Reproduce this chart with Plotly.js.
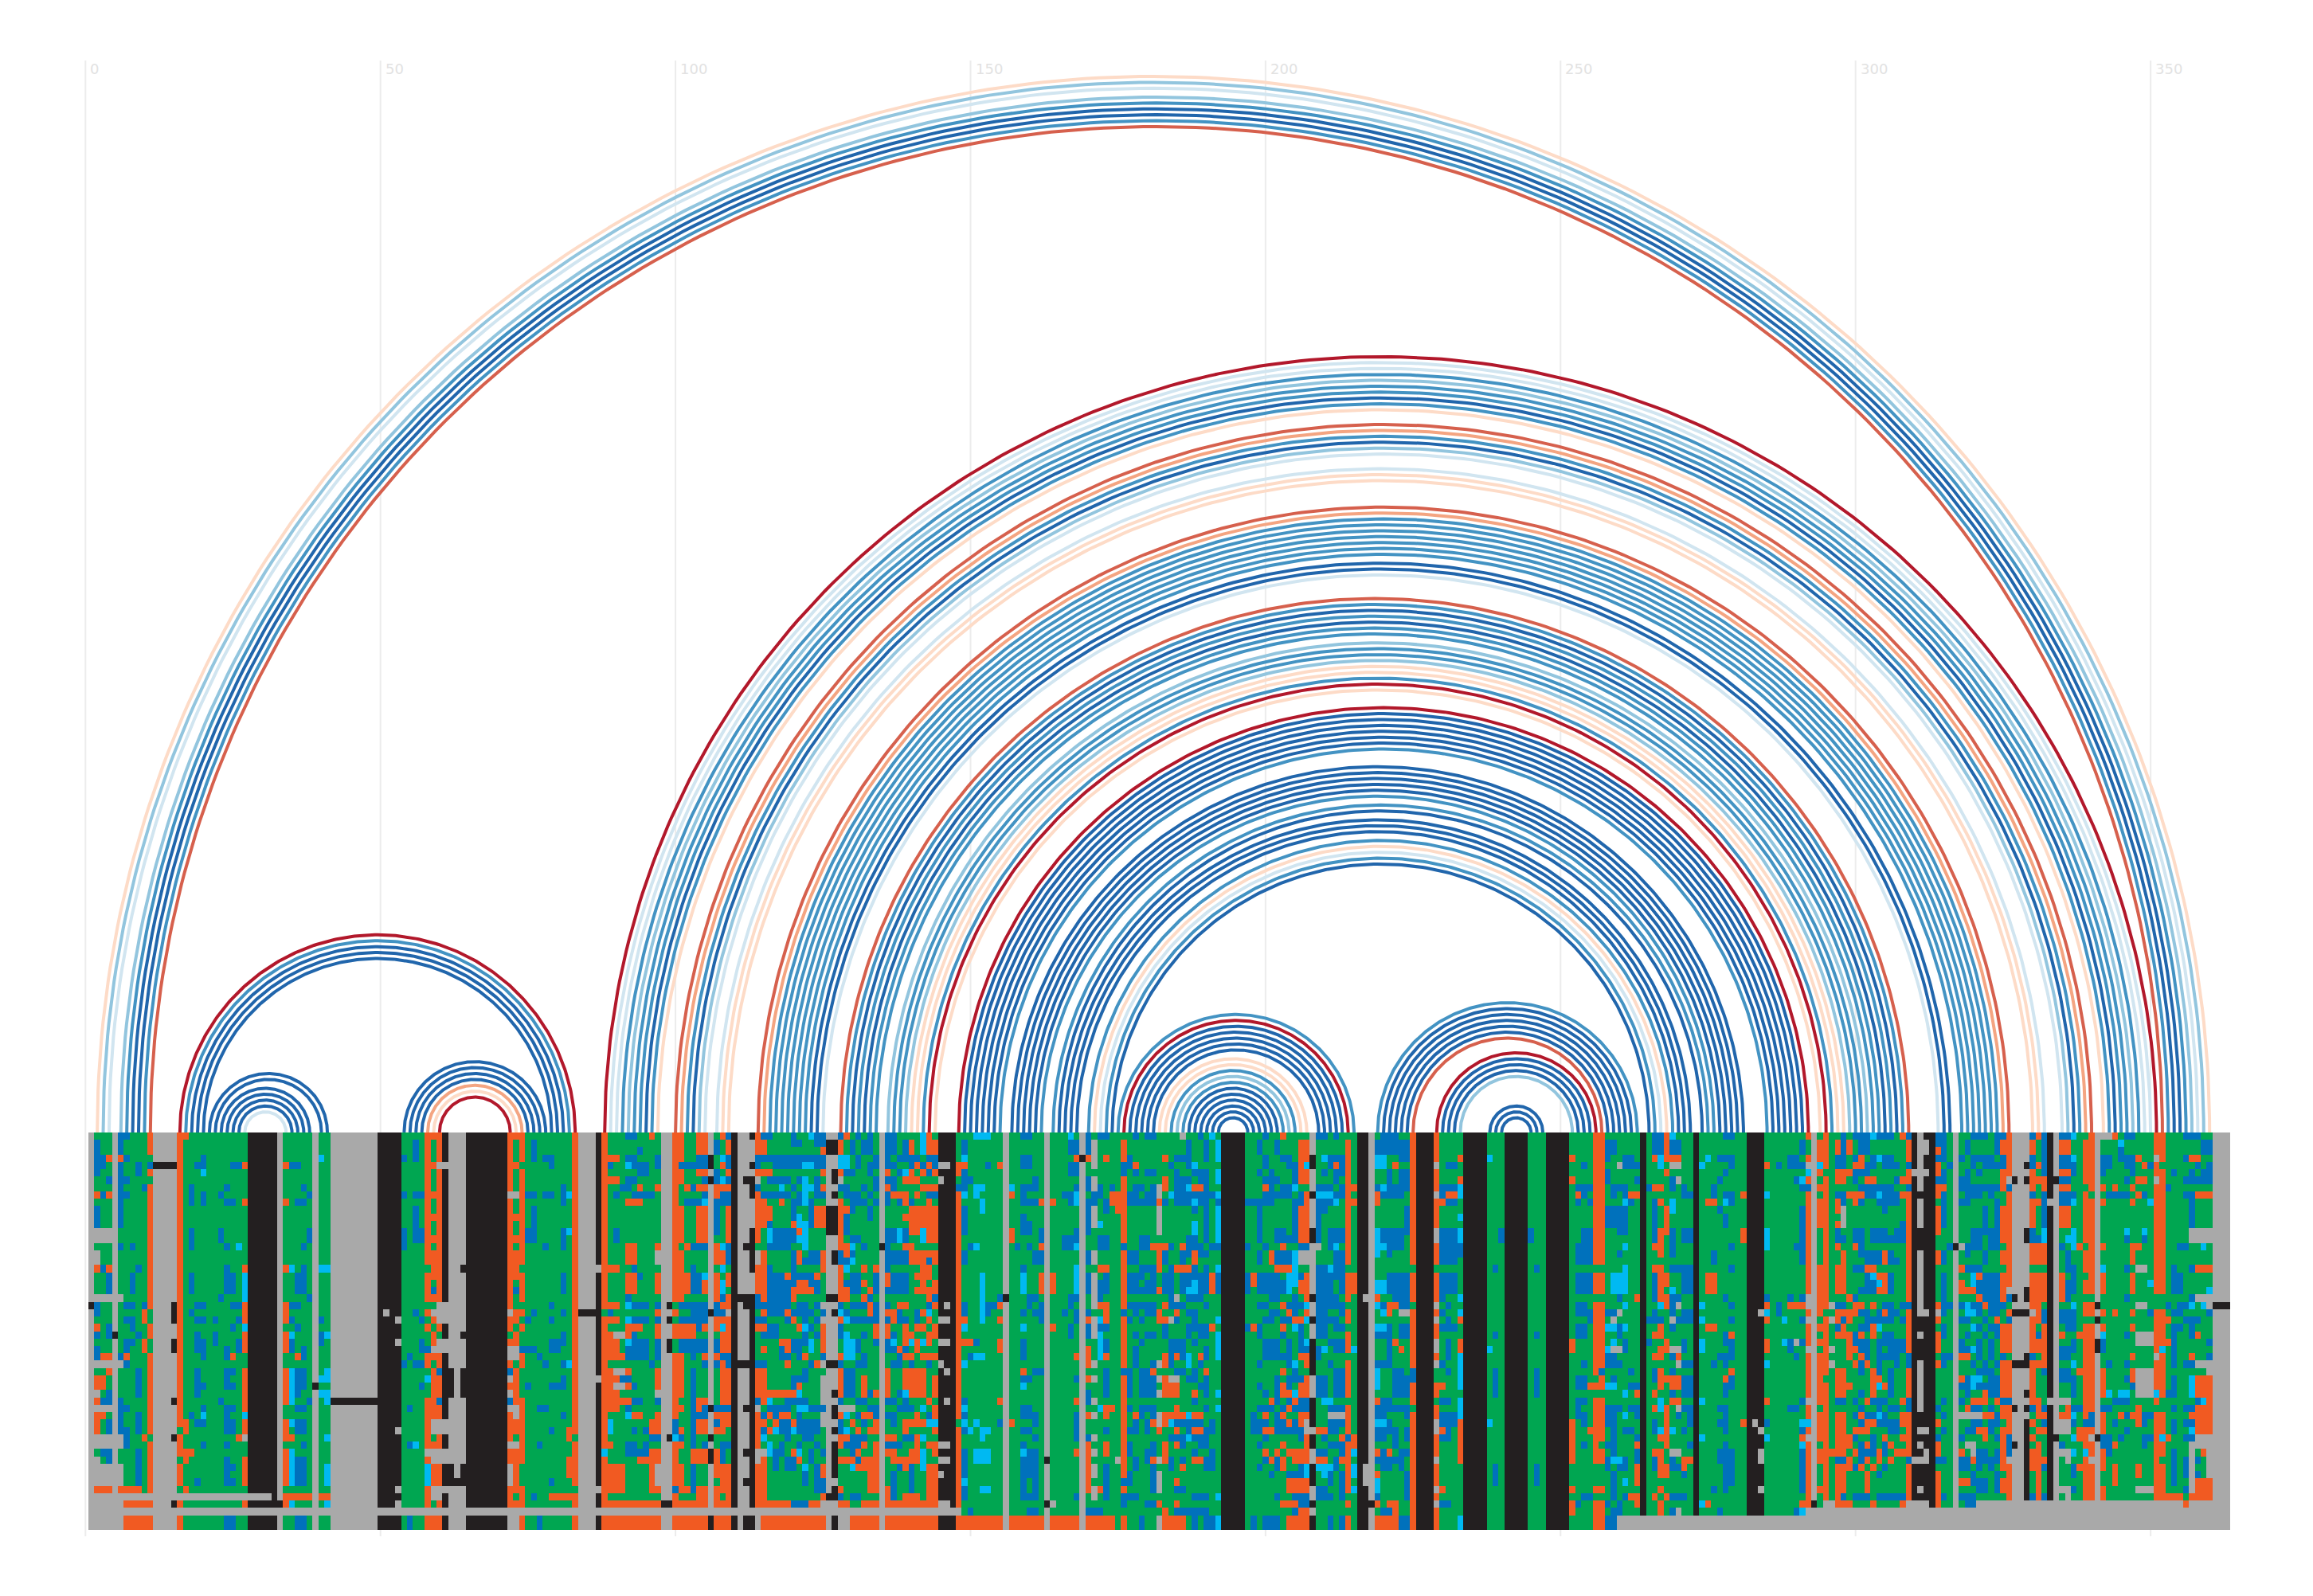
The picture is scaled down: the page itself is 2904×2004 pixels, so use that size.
<!DOCTYPE html>
<html><head><meta charset="utf-8"><script src="https://cdn.plot.ly/plotly-3.0.1.min.js"></script>
<style>html,body{margin:0;padding:0;background:#fff}</style></head><body><div id="chart"></div>
<script>
// Alignment columns, ten per line. Each string: colour letter + first row of the run (rows 0-53).
// Values are eyeballed estimates from the picture; dense columns are approximate.
const msaColumns = [
"X0K23X24","G0B1G6O8G9B10X13G15X16O18G19X22B23G25O26B27G28B29X31G32O33X35O36X37O38X41G43X44O48X49","G0B3G5B8G9X13G15B18G19X22G23O30X31G32O33G35B36X37O38G39X41B43G44X45O48X49","G0O3G4B6G7O8G9X13G15O18B19X22G23B26G28O30X31O32G33B35X37G38B39X41B43X45O48X49","X0K27X28","B0O3B4G13B15G16X22G23B30X31G32B36X41G43X45O48X49","B0G1B3G4B6G7B8G9B23G24B25G26B28O30B31G32B37G38B40G43O48X49O50X51O52","G0B15G16B19G22B23G24B25G27B28G29O48X49O50X51O52","G0B4G6B18G19B27G28B32G36B38G41B43O48X49O50X51O52","G0B7G8B23O24G26O28G30O41G42X49O50X51O52",
"O0G3B4O5G6O7G24O26G28O30G41O42X49O50X51O52","X0K4X5","X0K4X5","X0K4X5","X0K4X5K23X26K28X30K36X37K41X42K50X51","O0G40O41G44O45G48X49O50X51O52","O0G1O39G41O43G45O48X49G50X51G52","G0B7G10B13G16B19G22B24G25B38G39O43G44X49G50X51G52","G0B4G5B23G24B25G26B27G30B32G36B39G40B47G48X49G50X51G52","G0B3C5G6B8G10B23G24B25G26B28G31B34G35B37C38B39G40B42G43X49G50X51G52",
"G0X49G50X51G52","G0B25G26B27G29X49G50X51G52","G0B8G9B13G15B22G23B36G37X49G50X51G52","G0B7G8B9G10B15G16B18G22B29G31B32G35B37G41B42G43B44G48X49G50X51B52","G0B4G5B9G10B19G22B23G24B26G27O30G31B32G33B34G35B37G38B39G41B45G46B47G48X49G50X51B52","G0B4G5C15G16B23G24B25G26B28G30O41G42X49G50X51G52","G0O4G5O9G10O18C19O23C26O27G30O32C38O39X41G42O44G48X49O50X51G52","K0X49K50X51K52","K0X49K50X51K52","K0X49K50X51K52",
"K0X49K50X51K52","K0X51K52","X0K50X51","G0O4G5O9G10O18G19O23G26O27G30O32G37O39G42O43G48O49X51G52","G0B4G5C18G19B23G24B25G26C27B28G30C32G37C39G40O41G42C43G48O49C50X51G52","G0B4G5B9G10B19G22B23G24B26G27O30G31B32G36B37G38B39G41B44G48O49G50X51B52","G0B7G8B9G10B15G16B18G22B29G31B32G35B37G38B39G41B42G43B44G48O49G50X51B52","G0B8G9B13G15B22G23B36G37O49G50X51G52","X0K34X35","G0C3G4C18G19B25G26B27G29C33G34C35G36O49G50X51G52",
"G0C18G19C27G28C32G34C35G37C41G42C45G48O49C50X51G52","X0K36X37","X0K36X37","X0K36X37","X0K36X37","X0K36X37","X0K36X37","X0K36X37","X0K36X37","K0X51K52",
"K0X24K25X51K52","K0X51K52","K0X25K26X28K29X40K41X48K49X50K52","G0B3G4B8G9B13G16B31G32X51G52","G0B30G31B37G38B42G43X51B52","G0B1G4B8G9B10G15B24G25B31G32C42G43X51G52","G0B8G9B13G15B25G26B28G30B31G32B34G35X51G52","O0G18O19G23O24G25O26G27B29O30G32C33G34O36X43O44C45O48X51O52","O0G1O4G5O8G9O11G12O14G15O16G20B21O22G23X24O25G26O27X29O30G31O32X39G41O42X43O45X48G50X51O52","O0X4O5X23O26G27X28O30B32O33B36O37X39O41X43O45X48O50X51O52",
"K0X4K5X23K26X28K30X39K41X43K45X48K49X51K52","X0K32X36K45X48","X0K47X48","X0K18X19K27X28K32X36K45X48","K0X51K52","K0X51K52","K0X51K52","K0X51K52","K0X51K52","K0X51K52",
"K0X51K52","O0X8O9X24O25G27O28X29O31B32X33O34X35B36X37O38X42O43X45O48X51","O0G1O4G5X8G9O11G12O14G15O16G20B21G22O24G26O27X29G31O32X37O39G41X42O43G49O50X51","O0G4O5G18O19G23O24G25O26G27B29O30G32O36G45O48X51O52","G0B8G9B13G15B25G26B29G30B34G35X51G52","G0B1G4B8G9B10G15B24G25B29G30B49G50X51G52","G0B30G31B37G38B42G43X51B52","G0B3G4B8G9B15G16B31G32B37G38X51G52","G0B3G5B8G9B23G24B25G26B28G30B34G35B40G41B47G48O49G50X51G52","G0B28G30B34G35O49G50X51G52",
"G0B7G10B13G16B19G22B24G25B27G29B31G32B33G35B38G39O49G50X51G52","G0C8G9C13G14C31G32O40G42O44G47O49G50X51G52","O0G41O42G48O49X51O52","X0K24X25","X0K24X25","X0K24X25","K0X18K19X33K34X48K49X51K52","O0G24O25C43O44X51O52","G0O3B4G5O6G7O18G19O23B24O25G26O27G31O32G38C39G41O42G43O45G49O50X51O52","G0O3G4O6G7B8G9B13G15O18G19O23G24O25G26X27O28G31X32O33X34O35G38O45G49O50X51O52",
"G0B7G8X27G28O30G31X32B33X34G35O36G37O45G49O50X51O52","B0G1B3C4G5B6G8O9G10O15G18O19B22C23G24C25O26C28B29G31O32B33O34G35O36B37C38G39B42G44O50X51O52","B0G1B3G5B6G7B8O9G10O15B18O19G22B23G24B25O26B27G31B34G35B36G37O38G39B40G41B42G44O50X51O52","G0B2G3B4G6O7B8O9G10B19G20B23G24B25O26G27B28G31B36G37O38G39B43O44G45O50X51O52","G0B4G6B8G9B23G24B25G26B28G31B40G41B42O44G45O50X51O52","O0G1B8G9B31G32O39B41G42O43G49O50X51O52","G0B3G5O7G8O15X16G18O19G22B23O24B25O26B28G31O32X35B36G37O38B41G42O43X45O48G49O50X51O52","X0K50X51","X0K23X24K25X26K28X30K41X42K50X51","O0G23O24G25O26G28O30B39C41O42B48O49X51O52",
"O0B4O5G7O10G15O16B23G24B25O26B28O30G36O37G38O40B41O42G43O45G49O50X51O52","G0B4G5O7G8B9G10O15G16O19G22B23G24B25O26B28G30O48G49O50X51O52","G0B4G5B7G8B9G10B15G16B18G22B23O26B28G31B32O43B45G49O50X51O52","O0B3O5G6O7G8B9O10B15G16B19G22B23G27B28G30O36B38O39G41O43G45O48X51O52","O0B3O5B6O7B8C9O10B15G16C19O20G22B23O26G27B28O30B31G32O36B37O39G41B42O43G45O48X51O52","X0K3X5K6X7K24X25K37X38K41X42K43X45K52","G0B1G3B5O7B9G14O15G18O19B23O25G27B28O30B31G32B37O38B39O40G41O43G47O48X51O52","O0G1C3O4G5C6O7B8G10C15O16C18G19C20B22O23B24O25C26O27B30O31B37O38G41B42O45G49O50X51O52","B0O1B3O5B6O7B8O10B15G18O19G21O22X24O25B30O32B37O38G40B42G43O45X51O52","K0X51K52",
"X0K22X23K31X32","X0K6X7K15X16K22X24K31X32K37X38K43X44K47X48K52","K0X1K4X5K6X9K13X19K22X51K52","O0B3O5X6B7O8G15X16O18B22G24B25O26G27B31O32B36X37O38X43O45X51","B0O1B3G4O5G6B8O9G13O16B23O24B25O26B27G28O29G30B31O32G37B38O39B40C41G42X43O44X51O52","B0G1B3G4O5B6G7B8G9O10B12C13B15G16B18G25B26G28O35C36B37O38G39O40G41C42G44O50X51O52","G0B3G5B6G7B8G9B13G16B19G25B26G28O35G36B37O39C40G41B43G46O50X51O52","G0B3G5B6C7B8O9G10B13G16B19G25O28B29G31O35G36B37O38B39G41B42G44O50X51O52","G0B3G5B6G7B8G9B13G16O19B20O24B25G26O28B30O31G32O35B36O38B39G42B44G46O50X51O52","B0G2B3G5B7G8B9O12B13G15B16O21G23B24O25G26B28G30B33O35B36G37O39C40G41O43B44G46B50X51O52",
"G0B1G2B3G5B6G7B8G10C11O13C14G15O16G18B19O20G22B23G25O26G27B28G31B33O34C35B36C37B38G41B42C43O44G45B50X51O52","G0B3C4G5C6G10C12G16B17G18B19O20G22B23C26B27G29O30G31B32G34B36C37G38B39G42C45B46G48B50X51O52","C0G1B3C4G5C7G8B9G13B16G18B19O21G22B24G25B26G27C28G30B31G32B37G38B39G42B43G45O50X51O52","B0G2B3G5B6G9O10G13B16G18O19B20G22B23G24B25G26B27G28O31G32B37G38B39G41B42G43B45G49O50X51O52","B0O2B3O5G6O7B8G9O10G13O16G19X23B24X25O26B30X31G32X33B37X38G40B43G44O45B47O49X50O52","X0K1X3K10X14K22X23K31X32K49X50","X0K1X3K5X7K8X9K10X14K16X18K22X23K24X25K31X32K35X36K37X39K40X41K42X47K48X50K52","B0O1C3O5X6B7G8O9B16O18B23C24O25B26G28O30B31O32B36X37O38B39O41G43O44G45O48B49O50X51","O0G1C3B5G6B7G9O10B11G14O15B17C18G19B20O21G23B24C25G26C27G31B32G36X37C38G39C40O41B42G43O44G45O50X51","G0B1G3B5G6B8G11B14C15B16C17G18B19G22B23G24B25G26C28G31B32G36X37G38O39G40B41O44C45G46B49G50X51O52",
"B0G1B3G5B8G10B14G15B19G22B23G24B25G26B28G30B31G32B36G37B38G39O40B41O43B44O45G46B49G50X51O52","G0B1G3B7G8B9G10B15G16O18G19O20G21O22B23G24B25G26B27G28B30G32O33B36G37O38B39G40B41O42G43O44G46O50X51O52","B0G3B4G6B8G9B10G12O21B22O23B25G26B35G36B37O38G39O40G41O44G49O50X51O52","G0B3G5B6G8B9G10O18B19G22B23O26B28G29O35G36B37O39G41O42G49O50X51O52","X0K15X16","B0O5B6O7B8G10B13O19B21G22B23O24B25O26B28G30O32B36G37B38G39O41B42O43G44O48G50O50X51O52","B0G3B4G5B6O8G9B13G15B16G18B19G22O24G26B27C28B29G30B31G32B36G37B38G40O41B42O43G45B46B49O50X51O52","G0B3G4B5G6O8B9G10C13G15B16G18B19G22O23B24G26O29B30G32B35G36B37G38B42G43O44B45G46O50X51O52","G0B1B3G4C5O6G7O8G10O11G12B13O15B16G18B19G22O23G24B25O26B29O30G31O32C35B36G38O39B41G42O44G46O49X51O52","G0O1B3O5G7B9G10O10G14O15G18G26O27C28G29O30B31O32G36B37G38O39G40B41G42O43B45O49X51O52",
"G0B3O4G5O6G7O8G9O10G14O16G18O19G20O21G22B24O26G27O28G30O32G36O38G40O41G45O49X51O52","C0G3B4O5G6O7G8O10C13G15O16G22O24G25O26G27C28G29O30G31O32G36C37G38O39G40C41G42C43G46O50X51O52","O0B3O4B5G6O7B8O9G15O16B17O18G20O21B23C24O25G26O27G29O30B31G32O36G37B38C39G40O42G43O45O50X51O52","G0O1B3O5G6O7B8G9O10G15O16G18O20B22O23G24O26G28O30G31O33G36O37C39O40G41O42G44O45O50X51O52","K0X4K5X6K7X25K26X28K29X31K32X42K43X44K45X46K47X50K52","K0X4K5X23K24X25K26X28K29X32K33X36K37X42K43X44K45X50K52","K0X51K52","G0O4G6B7O8G39O40X51O52","G0B1C3O4B5C8G9B10G14B16G18B23O25C26G27O28G29C31G32B36C37B38C39B40G41B43C47B48G50O52","G0B6G7B15G16O28G29B30G31C40G41B51O52",
"C0G1C7G9C15G16B28G29C30G31C39G40C43G45O52","C0G1C7G8C9G11C19G26C30G31C40G42C43G45C48G49O52","C0G1B4G5B23G25C40G41C43G45C48G49O52","G0B23G24O52","G0O4G5B22O23G24O25G26O28G30O36G37B39G40O52","X0K22X23","G0C7O8G9O13G15O39G40O52","G0B15G16O52","B0G1B3G5B7G10B11G14B18C19G22B24G25C26G27B28G31O32B33C34G35B37G39B40G41B42C43B44G50O52","B0G1B3G5B7G8B9G10B12G14B15G16B22G24G33B33G34B37G39B40G41B43G47B49G50B51O52",
"G0B6G8B9G10B16G18B22G23B24G25B32G33B38G40B41G42B43G50B51O52","G0O9G10B13O15B16G18O19G22B23G26B32G33O52","X0K44X45K50X51","G0O9G10O19G22O26G27X50G51O52","G0O52","G0B8G9B14G16B24G25O52","C0B1G3B4G6B8G10B14G16B22G24B26G28O52","G0B1O3B4G6B7C8G10B13C15G16C18B22G23B24G26O30G31B33G34O36G37B38G42O43G44B49G50O52","X0K3X4","B0O3G4B6G8B9G14B16G18B19G22B24O25B26G28O29G32O33G34B35G37O38G39B41O42O48G49B51O52",
"G0X1G5X6B8X10G13X16G18X19G24X25G28X31G32X33G34X36G37X38G39X41G42X43G44X45G47X48G50B51O52","B0G1B7G9C12G13B14G16O18G19B20G23O23G24C25B26C27G31C37G38O48G49B51O52","B0G1O3G4B9G11B14G16O18B19G22O23B26G27B28O30G31B32G36O37G39B40G41O42G44B45G50O52","G0B7O8G10O37G38O52","G0O8G11X44G45","G0O1B4O6B15O16B24O25B32O33B47O48B49G51O52","G0B3G5B8G10B16G18B19G22B23G24B25G26B32G36B37G38B40G41B42G44B46G48B49G50","B0G1O4B5G6B7G10B16G18B19G22B23G25B27G28B29G32G36O38B39G41B44G46B49G50","G0B7G8B9G10B14G16B18G20B21G22B23G24B25G26B28G29B32G36B37G39B52","B0G1B5G6B8G10B14G16B18G19B20G22B23G25B27G28B32G36B37G38B39G41B43G45B50G51",
"B0G1B5G6B7G10O15G16B18G22B23G25B27G28B31O32B33G36B37O39G40B42O44B45G49B50G51","G0X7O9X10G14O15G19O21G22O24G26X31G32X33G34X35G36X38O40G41X44G45X46G49O50G51X52","G0O3G4O6G8B9G10O15B16G18B19G22O23G24O25B26G28O30G32O33O35G36O38G40O42G45G49O51","G0B4G5C8G9B15G16B18G24X25G26B28G32X33O34G36O38C39G40B41G42B44G46O52","G0B3G4B5B8G10O18G19X22B23O24B25G26B28O30G31B32X33O34G36O37B39O40B41O42G43O47B48G49O50B51O52","X0G1B3G4B6G10O15B16O18B19G22B23G24B28G31B32G33G37O38B39G40B41G43B44O45G46B48G49B51O52","G0B1G5B6C7B8G10B14G17O18B19C21B22G23B24G25B26G28C30G32B33G34C38B39C41G42B51G52","G0C4B5G6O7B8C9B10G11C12B14O16B18C20B22G23B24G27B28G29B32G34O35B36G37O38B39O40B41G42B43O44G45B49G50B51","B0G1B5G7O7B8G10B15G17B19G23B26G28O30B31G32B34G35O38B39O40B41G43O44G45B49G50B51G52","G0B1G4B5G15B16G17B18G22B23G24B26G28B29G31O32B33G36B37G38B40G43B44G46B49G50B51",
"C0G1B8G9B15G16O19G22O26G27B39G41B43G46B52","G0C1G4C5G7C8B9C10B15G16C18B19G22C25G26C27G31C35G36C37G38C49G50C52","K0","K0","K0","K0","G0B9G10B15G16B19G22B26G27","G0B9G10O19G21O26G27B38G41B52","G0B1G3B5G6B9G15B16G18B19G22B23G24B26G28B31G32B34G35B37G38B39G41B42G43B45G46","B0G1B3G5B6O7B8G10B15G16B19G22B23G24B25G26B28G31B35G36B37O38B39O40B41G42O43B44G45B52",
"G0B5G10O16G18B19G23B24G26B28G31O36B37G38O40G41O44G45B46G47B52","G0B1G3B6G7B8G9B13G15B16O18B19G23B24G25B28G31B33G37B38G41O43B44G46B49G50B52","O0G1B3G4B7G9B13O15B16O18G19B20G22O23G24B25O26B27G28B30G31O32G33O34G36B37O38B39G41O42G43O44G46O50G51","G0B3G5B7G9B14G15B16O18C19G22B23O24B25G26B28G32B33O35B36O37G38O39B40G41O43G44B46O47G49O50G51O52","G0B4C7G8B9G15C16G21B22B24O25C26G27C31B32G34C35O36B37G38B39G41O43G45B46O47B49O50B51O52","G0O1G7B8O10B15X16G18B19O20G22B23G24O25B26O30G31B33O34B36O38B40G42O43B45O47B49O51","G0O1C4O5G7O8B15X16G18O19C23O24C25G26C28B29O30G32O33B36O38X39O41C45O47B49O51","X0K3X5K8X9K13X15K22X23K25X26K28X33K36X40K41X43K45X48K50X51K52","B0G1B7C8B9X15G16B18G28B29G31B33G36O40G41B43O44C45G46B48G50","B0G1C3G4B5G6B7C8B9G11B18G28C29G30B33C36G37O40B41G42B43O44C45G47B48G50",
"G0B3G5B7C8B9G10B13G16C18B19G24B25G26B28G29B31G32C36B37X38B39G41B42G43C45B46G48B49G50B52","B0G1B3O4B5G7B8C9G10B13C15B16G20B22G24B25G27B28G30B32G36B37X38B39G41B42G43B44G46","G0B3G6B7G9B13G15B16G22B23G25B26G27B28G30B32G36B37X38B39G40O41B42O44G45B46G50B52","G0O1G18O19G23O24G26O27G30O31G36O37B41O42O45G49O50G51O52","G0O7G8O9G10O19G22C29G30O41C43G44C45G47C48G49","K0","K0X22K23X45K48","X0K50X51","G0B1C3G5B7O8G10C13G17C20O22C23G24C26B27G28B31C32G35O36B37C39B40G42O43B44G45O46C47B49O50G51O52","B0C3G5C7B8G9B13C15G16C20G22B23C24G25C26B27G28B31G32B36C39B40G42B43G46B51O52",
"B0G3B5G9B13G17B19G22O23G25B26G32B36G38B39G41O43B44G46O50B51O52","B0G3O4G5B7G9B13G16B19O23G24O28G29B32G36B37G38B40G43B44G45O50O52","G0B1G4B5G9B13G16B19X24G25B26G28O29G30B32G36B37G38G41B43G46B52","G0B1G4B5G8B10G14B19X24G25B26G28B33G36B37G39B40G42B43G44B46G50B52","O0G18O19G23O24B32O34G37O38","K0","K0","K0","O0X4O5X8O9X13O15G18O19X23O24X25O26X28O30X31G32O34G36O37X39O41X44O45X48O49X50O51","G0B7O9G10B13G18B19G23B24G25B26G27B31G32O34G35B36G37B38G40O40G41B41G42O48G49B50G51",
"G0B4G5B7O8B9G10B13G18B19G22B23G24B25G27B28G31B32G33B36G37B38G42B50G51","G0B4G5B7O8B9G10B13G18B19G22B26G27B38G40","G0O3G4O6C7G9C11G12C13B15G17C22G23C24O25G26O28C30G35C36O39G45C52","K0","K0","K0","K0","G0C3G4C29G30C39G40","G0B18G19B27G28B32G36B45G48","G0B13G15",
"K0","K0","K0","K0","G0B13G15","G0B18G19B27G28B32G36B45G48","G0","K0","K0","K0",
"K0","G0O3G4O6G7O28G30O39G45O48G49O50G52","G0B7O8B9G10B15G18B19G22B23G25B26G28B33G35B36G39B50G51","G0B4G5B7G9B13G18B19G22B23G25B26G28B31G32B33G35B36G37B38G40B42G43B49G50","G0B7G8B9G10B13G18B19G22B24G26O34G35O40G41B49G50","O0G18O19G22O23G33O34G35O36G45O48G49O50","O0G18O19G22O23B32O33G35O36G42O43G45O48G49O50","G0B1G4B5G7B10G13G22B24G25C26G27C29B30G32C34G35B37G40B42G43B44G46B50G51B52","G0B1G3B7G9B10G13C19G22B24X25C26G27C28X29B30G32B33C34G35B37C44G45B46G50B51","G0X4G5B7G8B10G14B16G17C19B22G23X24G25B26G28X29G30B31G32B37G38C44B45G46B50X52",
"G0B3G5B7C9B10G14C15G16C18G22C23G24C26G27B28G30C35G36C38G39B40G41B44G46C47G48B49G50X52","G0B3G5O8B9G10B32G33B34G35B37G38B40G41O49G50X52","G0B4G5B6G7O8G9O22G23B34O35G36B37G39B41O42B43G45O45G48O49G51X52","K0X52","G0B7G8B25G26B28G29X52","B0O3G4O7G8B9O15G16O18B19G23B24G26O27G28O30G31B32G34O35G36O37G38B39G41O43B44G46O49G50X52","B0C3G5O7G8O9G10O13G17O18C23G24B25O26G28O29G31O32G35C36G38C40O41G42O43G47O48G49O50X52","O0G4O5G6O10G14O19G21O22G24O28G30O33G34O37G43O45G47O49G50X52","C0B1O3X4G5B6G8C9G11B13G17B18G19C21B22X25B26G27X29B30G31B32O33B35O36G37C40G41X43B44G46B49G50B51X52","G0B1O3X4G5X6G7B18G19B22X23G24B25G26X29O30X31G32O33G35O36X37B38G39X43G44B45G46B49G50X51",
"G0B7G9B13G15B18G22B24G26B28G30B31G32B33G36B37G38B40G41O44B46G47B49G50X52","G0B8G9B13G15B18G22B24G26B31G32B33G36B37G40B42G43O44G45X52","K0X52","G0C4G5C23G24C25G26C28G30C36G37C41G42C50G51X52","G0C3G4O9G10O19G22O26G27O50G51X52","G0B7O9G10B16G18O19G22O26G27B31G32B48G49X52","G0B3G4B6G7B10G11B30G31B37G38B39G40B43G45B51X52","B0G1B3G4B5G6B8C9G10B11G13B22G23B27G29B30G32O33B34G36B37G41B42G49X52","B0G1B3G5B8G10B15G16B18G19B23G24B25G26O27B28G31O32B33G35B43G48X52","G0X52",
"G0O8G9O13G15O39G40X52","K0X52","K0X39K40X52","K0X24K25X40K41X43K45X48K49X52","G0O4G5C8G9C13G16B22O23C24O25G26O28G30C31G32O36G37B39G40C41G42X52","G0X52","G0B4G5B23G25X52","G0C25G26C28G29X52","G0B3G5B22O23G24B28G30B37G38X52","G0B3G5B6G7B15G16O23G24X28G29B30G31B37G38B51X52",
"G0B1G3B4G5C6B7G8B10G18B22O23G24B25G26B28G29B36G37C39B40O41C42B43G49O50C51X52","O0G1O3X4C5O6B7O8X22O24X25O26X29O30X36O37C39O40X41O42X51","X0K50X51","G0O1C4O5G6O7G8O9G13O18G25O26G27O28G29O30G37O38G42O43G45O48G49X51","O0G5O6G24O25G33O34X50","G0X23G24X25G26X29G30X31G32O43G44X50G51X51","G0O1B3O5G7B8O9G11O12B13O15G16O18G22B23O24B26O27G28O32B36G37O38B44O45O50X51","B0O5G7B8X10G13B14G15O16O18G22B23O24B25O26G28O32B36G37O38O41B44O45B49O50X51","G0O1G3O5G6O8G9O22G23O24G26O27G31O34G35O41G43O44G46O50X51","B0G1B3O4B5G7O8G10B13O15G16B18G19B22O23G25B27O29G30O31G32B36G37B38G39O40B41G42O43G44B45G46B49G50X51",
"B0O3B5G6B7O8B9G10B13G17B18G19B21G22O23B24G25B26O27B28O30B31G33B35G36B37O38B39O40G41B42O45G46B49G50X51","B0G3B4O6B7G9G15B16O18B19G22B24G27B28O31G32O36G37B38O39G41O42B43O44G45O46B49G50X51","C0G1B3G5O6B7G9B13G15B16O18C19B20G22O23G24B25O26G28O32B36G37B38O39G40B41G44O45G46O50X51","B0G1C3G4B7C8B9G10B13G15B16G18O19C20O21G22B24C26G27B28O33C34G35B36C38B39G40O43G45B46G47B49G50X51","B0G1B3G5B7G11B13G15O16G18O19G22B23O24B25G26B27G29B30G31O34G35B36G37B38B39G40O41B42G44B45G46B49G50X51","B0G1B3G5B7G10B14G15B16G18B19G22B23G26B27G31B32G36B37G38B39G41O42G43O44G45B49G50X51","G0B4G5B6G7B8G10B13G15B17G18B24G25B28G32B37G38B39G41O43G44B49G50X51","O0G1O6G7O8G9B12G15B23G24B25G26B28G30O36G37O38G40O41G42O43G44B49O50X51","B0O1B4O5B7O8B23O24B30O32B36O38B44O45X50","K0X5K6X44K45X50",
"X0K8X9K13X16K25X27K28X31K38X40K41X42K43X44K45X48K49X50","K0X1K3X5K6X24K25X40K41X43K45X50","K0X51","B0O2B3O4B6O7G9O10G14O16G18O23X24O25G26O27G30O31G32B37G38O39G40B41O42B44G45O46O50X51","B0G4B5O7B8G13B16G18B19G25B26G28B30G32B36G37B38G39B40G41B44G45B49G50X51","G0B4G5B15G16B23G24B30G31X51","X0K15X16","G0B3G4B6G8B9G10X15G16O18G19O20G22B23G24B25G26B28O30G31O33B34G35B36G37X38G39B41G42O43B44G46O47G48B49G50X51","G0B1G3B5G10B15G17B18G19O21G22C23B25G26B27G28B29O30G31B33G36O37X38G39B40G41X42G43B44G46O47G48B49X51","B0G1B3G5B7G9B13G16B18C19O21G22B23C24G25C26G27C29G30B31G32C33G35O36B37X38B39G41X42O44G45B46G48B49X51",
"B0G1B3G4B5G6B7G9B13G16B18O19B20O22B23G25B26G27B28G31B32G33C33B34G35O36B37X38B39O40G41B43G46B47G49X50","B0G1B3G5B7G8B10G14B16G18B19O23G24B25G26B27G28B31G33B34O35G37O38G39O40G42B43G45B47G49X50","G0B3G5B7G9B13G16B19G25B26G27B28G31B32G36B37O38B39G41B44G46X50","B0G3B4G5B7G8B9G16B19G25O25B26G28B31G32B33O36G37B38G40B41G42B43G45B46G49X50","B0O1B3O5G8O10G15O16G18O19B23G24O26B30O31B36O37G39O40G46O47G49X50","O0X6B7O8X21B22G23O24B25O26G30O31B36O37B41X44O45X50","X0K6X7K22X23K24X25K31X32K37X38K42X43","X0K24X25K31X32","X0K4X5K6X7K13X15K21X23K24X25K30X32K35X36K37X38K39X50","B0O1B3O5B8O9B13O15G18O19X24O25B30O31B37G38O39G40O41G42O43G46B49X50",
"O0G1O4G5O6G7O9G10B14O15G18O19G26B27O28G30O31G32O36G39O40G41O42O49X50","B0O6B8C13O15G18O19G23B24O26B32G33G36B37O38B39O40G41O44B45G46B49X50","K0X9K10X36K37X50","X0K6X7K41X42","B0O1B3O5B6O7B8O10G13B15G16O19G23B24G26O27G28B29G31B32G34X36G37O38X39G41B42X43G44X48G49X50","B0O1B3O5B6O7B8O10G13C14G15B16G19B20G23B24G27B29G31B32G34X36O37X39G41X43G45X48X50","C0G1C3B4G6B8C9G10C13G16B18G22C23B24G27B28G30C31G32B33G36B37C38B39G40C41G42C43G44B45G47B48G49X50","G0O15G16O27G28O32G33B37G38O40G42O45G46X50","G0O1G7O8G15O16G19O20G22O23G25O26B39O40C43O44X50","O0G8O9G22O23G25O26B38O40X41O42X44O45X50",
"X0K23X24K25X26K28X30K41X42","X0G1B3G6O7G8O9G10O15G16C18O19G22O24G25O26C27B28G30O32G36B37O38B41O43G46O48X50","X0G1B3G5B8G9B31G32C35G36B37G38B41G44X50","O0G1O7B8G9O24G25B36G37B39G40O42G43O45G48X50","G0C1B2G4B8G9C35B36G37O38G39B41G42X50","B0G1B3G5B6G7B8G9C13B14G15B18G19B22G23B27G28B31G32B33G34C35B36G37B38G39B40G41X50","B0G1B3G6O7G8O9G10O15G18O19G22O24G25O26G27O30G31O32B34G35O38G39X50","G0O3G4O6G7O8G9O15G16X18G19X23G24X27G29X32G36O37G40O45G47X48G49X50","G0O4G5O6G7B8G9C13B14G15X18G19X23G24X27G29X32G36B38G40B41G43X48G49X50","G0B4G5C9G10C20G21B24G25X27G29X32G36B38G39B41G42X48G49X50",
"O0X3O4X6O7G22O24X30O31C35O36G37O38X50","O0G4O5G22O24C29O30G36O38C41O42G44O45X50","G0B7G8B23G24O25G26O28G29B35G36O41G42O49X50","G0B5G6B18G22B24G25B26G32B33G36B37G38B39G41B43G48O49X50","G0B15G16B19G22B23G25B26G27O49X50","B0G1B3G4B6G7B8G9B15G16B23G24B25G26B31G32B37G38B39G40B41G42B44G47B48G49O50X51","B0G1O3G4B5G7B8X13G15B18G19B22C23G24B25G28O30B31G32C33G36B37O38B39C40B41X42O49X50","B0G1O3B4G5B6G7O8G9X13G15O18G19X22G23B25G26O27G28X31G32O33B36O37X41G43B44G45B46O47O49X50","G0B1G3B5G7O8G9X13C15G16O18G19X22C23G24X31G32O33C36O37X41O43G44O47O49X50","G0B1G3B4G7O8G9X13G15O18G19C21X22B24G25B28G29B30X31O33X41O47O49X50",
"X0K23X24","X0K23X24","X0K23X24"
];
const symbols = ["G","B","C","O","K","X"];
const symbolColors = ["#00a651","#0071bc","#00b9f2","#f15a22","#231f20","#a9a9a9"];
const rowCount = 54;
const tickValues = [0,50,100,150,200,250,300,350];
const tones = ["#b2182b","#d6604d","#f4a582","#fddbc7","#d1e5f0","#92c5de","#4393c3","#2166ac"];
// Base pairs: left position, right position, tone index
const arcLeft  = [2,3,4,6,7,8,9,10,11, 16,17,18,19,20, 21,22,23,24,25,26,27, 54,55,56,57,58,59,60, 88,89,90,91,92,93,94,95,96,97, 100,101,102,103,104,105,107,108,109, 114,115,116,117,118,119,120,121,122,123,124,125, 128,129,130,131,132,133,134,136,137,138,139,140,141,142,143,144, 148,149,150,151,152,153,154,155, 157,158,159,160,161,162,164,165,166,167,168,170,171,172,173,174, 175,176,177,178,179,180,181,182,183,184,185,186,187,188,189,190,191,192, 219,220,221,222,223,224,225,229,230,231,232,233,238,239,240];
const arcRight = [360,359,358,357,356,355,354,353,352, 83,82,81,80,79, 41,40,38,37,36,35,34, 78,77,76,75,74,73,72, 351,350,349,348,347,346,345,344,343,342, 340,339,338,337,336,335,332,331,330, 326,325,324,323,322,321,320,319,318,316,315,314, 309,308,307,306,305,304,303,302,301,300,299,298,297,296,295,294, 292,291,290,289,288,287,286,285, 281,280,279,278,277,276,275,274,272,271,270,269,268,267,266,265, 215,214,213,212,211,210,209,207,206,205,204,203,202,201,200,199,198,197, 263,262,261,260,259,258,257,256,255,254,253,252,247,246,245];
const arcTone  = [3,5,4,5,6,7,7,6,1, 0,6,7,7,7, 7,7,7,7,7,7,4, 7,7,7,7,2,3,0, 0,4,4,6,5,6,6,7,6,3, 1,2,6,7,5,4,4,3,3, 1,2,6,6,6,6,6,6,6,7,7,4, 1,6,7,6,7,6,6,5,6,6,5,3,3,6,0,3, 0,7,7,7,7,7,7,6, 7,7,7,7,7,6,6,7,7,7,7,6,3,4,6,7, 6,0,7,7,7,7,7,3,3,6,5,6,7,7,7,7,7,7, 6,7,7,7,7,7,1,0,7,7,7,5,7,7,7];

// Expand columns into a row-by-column matrix of symbol indices
const nCols = msaColumns.length;
const z = Array.from({length: rowCount}, () => new Array(nCols).fill(5));
msaColumns.forEach((col, c) => {
  const runs = [...col.matchAll(/([GBCOKX])(\d+)/g)].map(m => [symbols.indexOf(m[1]), +m[2]]);
  runs.forEach((run, i) => {
    const end = i + 1 < runs.length ? runs[i + 1][1] : rowCount;
    for (let r = run[1]; r < Math.min(end, rowCount); r++) z[r][c] = run[0];
  });
});
console.log('columns', nCols);
const scale = symbolColors.flatMap((col, i) => [[i / 6, col], [(i + 1) / 6, col]]);
const traces = [{
  type: 'heatmap', z, x: z[0].map((_, i) => i + 1), y: z.map((_, i) => i + 1),
  xaxis: 'x', yaxis: 'y2', zmin: 0, zmax: 6, colorscale: scale, showscale: false, hoverinfo: 'skip'
}];
tones.forEach((tone, t) => {
  const xs = [], ys = [];
  arcLeft.forEach((l, i) => {
    if (arcTone[i] !== t) return;
    const cx = (l + arcRight[i]) / 2, rad = (arcRight[i] - l) / 2;
    for (let k = 0; k <= 240; k++) {
      const a = Math.PI * k / 240;
      xs.push(cx - rad * Math.cos(a)); ys.push(rad * Math.sin(a));
    }
    xs.push(null); ys.push(null);
  });
  traces.push({type: 'scatter', mode: 'lines', x: xs, y: ys, xaxis: 'x', yaxis: 'y',
    line: {color: tone, width: 4}, hoverinfo: 'skip', showlegend: false});
});
const W = 2904, H = 2004, unit = 7.408, x0px = 107.3, topPx = 1422, botPx = 1921;
const layout = {
  width: W, height: H, margin: {l: 0, r: 0, t: 0, b: 0}, showlegend: false,
  paper_bgcolor: '#fff', plot_bgcolor: 'rgba(0,0,0,0)',
  xaxis: {range: [-x0px / unit, (W - x0px) / unit], visible: false, fixedrange: true},
  yaxis: {domain: [(H - topPx) / H, 1], range: [0, topPx / unit], visible: false, fixedrange: true},
  yaxis2: {domain: [(H - botPx) / H, (H - topPx) / H], range: [rowCount + 0.5, 0.5], visible: false, fixedrange: true},
  shapes: tickValues.map(v => ({type: 'line', layer: 'below', xref: 'x', yref: 'paper', x0: v, x1: v,
    y0: (H - 1929) / H, y1: (H - 76) / H, line: {color: '#ececec', width: 2}})),
  annotations: tickValues.map(v => ({xref: 'x', yref: 'paper', x: v, y: (H - 74) / H, text: String(v),
    xanchor: 'left', yanchor: 'top', xshift: 4, showarrow: false,
    font: {family: 'DejaVu Sans', size: 18, color: '#e2e2e2'}}))
};
Plotly.newPlot('chart', traces, layout, {staticPlot: true, displayModeBar: false});
</script>
</body></html>
